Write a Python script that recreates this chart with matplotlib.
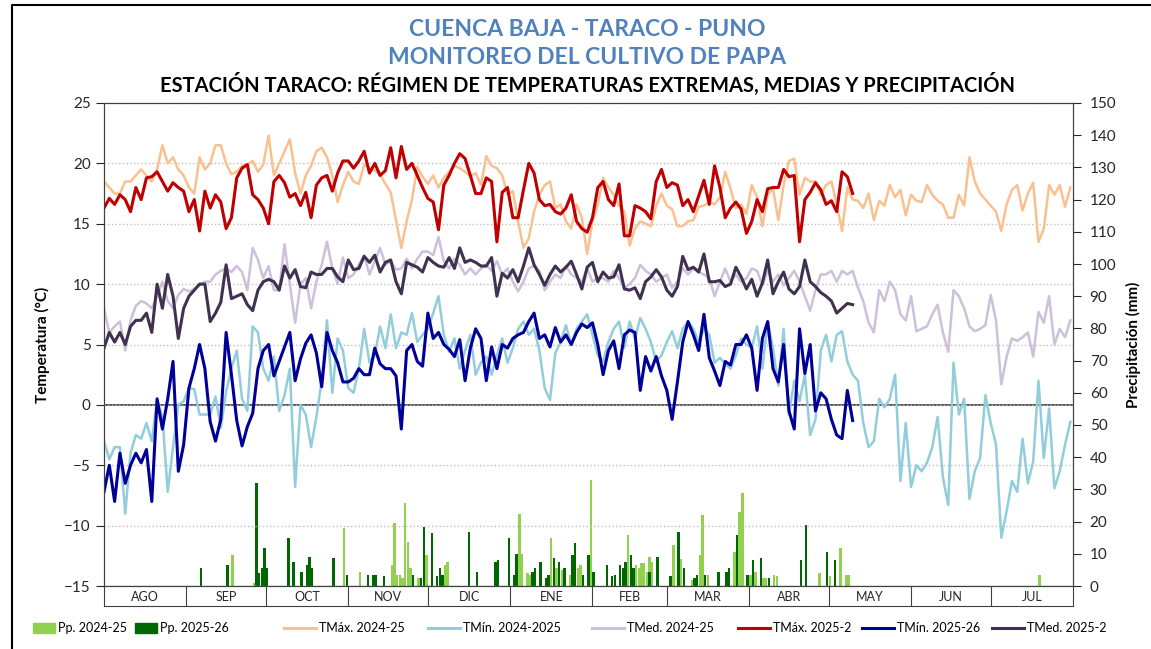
import numpy as np
import matplotlib.pyplot as plt
from matplotlib.lines import Line2D
from matplotlib.patches import Rectangle

plt.rcParams['font.family'] = ['Lato', 'DejaVu Sans']

months = ['AGO', 'SEP', 'OCT', 'NOV', 'DIC', 'ENE', 'FEB', 'MAR', 'ABR', 'MAY', 'JUN', 'JUL']
month_days = [31, 30, 31, 30, 31, 31, 28, 31, 30, 31, 30, 31]

# temperatures read every second day starting 1 Aug (deg C)
tmax_24 = [18.5, 18, 17.5, 17.5, 18.5, 18.5, 19, 19.5, 19, 18.5, 19.5, 21.5, 20, 20.5, 19.5, 19,
           18, 17.5, 20.5, 19.5, 20, 21.5, 21.5, 20, 19.1, 19.3, 19.8, 19.9, 20.2, 19.3, 19.9,
           22.3, 19, 20, 21, 22, 19.2, 17.5, 19, 19.8, 21, 21.3, 20.5, 19, 16.8, 18.2,
           19.3, 18.5, 18.3, 19.9, 19.6, 19.4, 19.1, 18.3, 17.6, 15.3, 13.0, 15.2, 17.0, 19.7, 18.9,
           18.3, 19.0, 18.0, 18.8, 19.3, 19.8, 19.6, 19.3, 18.9, 19.2, 18.2, 20.6, 19.8, 19.6, 19.0, 17.4,
           17.7, 15.2, 13, 13.8, 16, 17.4, 18.2, 18.5, 16.3, 16.6, 15.2, 14.6, 16.6, 15.5, 12.5,
           15.2, 16.6, 18.8, 18, 17.4, 16.5, 16, 13.2, 14.6, 15.2, 15, 14.8, 16.5, 17.5,
           16.5, 16.2, 14.8, 14.8, 15.2, 15.3, 16.4, 16.5, 16.8, 16.6, 17.2, 19.3, 17.9, 16.3, 16.6, 15.8,
           18.2, 17.2, 14.8, 17.4, 17.9, 15.3, 18.2, 20.2, 20.4, 17.4, 18.8, 18.5, 18.5, 17.4, 18.2,
           18.5, 16.6, 14.4, 18, 17, 16.9, 16.3, 17.5, 15.3, 16.9, 16.5, 18.2, 17.2, 17.8, 15.7,
           17.4, 16.9, 16.8, 18.2, 17.4, 16.9, 16.6, 15.5, 15.5, 17.4, 16.5, 20.5, 18.5, 17.5, 17,
           16.5, 16, 14.4, 16.6, 17.8, 18.2, 16.1, 17.5, 18.4, 13.5, 14.6, 18.2, 17.4, 18.2, 16.4, 18]

tmin_24 = [-3, -4.5, -3.5, -3.5, -9, -4, -2.5, -2.8, -1.5, -3, 0.4, -1, -7.2, -3.5, 0, 0.3,
           1.4, 1.3, -0.8, -0.8, -0.8, 0.7, -1.9, 1.1, 3, 4.5, 0.5, -0.5, 6.5, 6, 3,
           2, 4, -0.5, 0.8, 3, -6.8, 0, -0.8, -3.5, -1, 2, 7, 1, 5.5, 4.5,
           1.4, 1.0, 3.0, 6.3, 3.5, 4.1, 6.5, 4.7, 7.5, 4.7, 6, 5.8, 7.6, 5.2, 5.8,
           6.3, 7.6, 9.0, 5.8, 4.4, 5.5, 3.0, 4.5, 5.8, 2.5, 3.5, 4.0, 2.5, 4.1, 5.5, 3.5,
           4.7, 6.3, 6.9, 5.8, 6.3, 4.5, 1.4, 0.4, 4.3, 5.2, 6.6, 5.0, 6.3, 6.9, 7.5,
           5.8, 4.1, 3.6, 5.2, 6.3, 6.9, 4.7, 6.9, 5.5, 7.2, 6.3, 5.2, 3.6, 4.1,
           5.2, 6.1, 4.7, 6.3, 6.9, 6.3, 5.2, 6.3, 5.8, 3.5, 3.9, 3.4, 3.0, 4.1, 5.5, 5.0,
           4.7, 6.5, 3.0, 6.9, 4.7, 1.6, 6.3, -0.8, 2.0, 0.3, 2.5, -2.5, -1.2, 4.5, 5.8,
           3.6, 5.8, 6.1, 3.6, 2.5, 2.0, -1.5, -3.5, -3.0, 0.5, -0.2, 0.5, 2.5, -6.3, -1.5,
           -6.8, -5.0, -5.5, -4.8, -3.5, -1.0, -6.0, -8.3, 3.5, -0.8, 0.5, -7.8, -5.5, -4.4, 0.8,
           -1.5, -3.3, -11, -8.8, -6.3, -7.2, -2.8, -6.5, -4.7, 2.0, -4.4, -0.3, -6.9, -5.5, -3.3, -1.4]

tmed_24 = [8.0, 6.0, 6.5, 6.9, 4.5, 7.0, 8.2, 8.6, 8.4, 8.0, 9.0, 10.2, 8.6, 8.0, 9.1, 9.6,
           9.4, 9.6, 9.9, 10.2, 10.2, 10.8, 11.1, 11.3, 11.0, 11.5, 11.0, 9.5, 13.0, 12.0, 10.5,
           11.5, 9.5, 9.5, 13.3, 10.0, 6.8, 10, 10.5, 8.0, 10.2, 11.6, 13.5, 11.3, 10.0, 12.2,
           10.5, 10.8, 11.6, 12.4, 10.8, 11.9, 13.0, 11.6, 11.9, 11.2, 11.3, 12.1, 11.3, 12.1, 12.7,
           12.7, 12.4, 13.9, 11.9, 11.3, 12.1, 11.6, 10.8, 11.3, 10.8, 11.3, 11.6, 11.1, 11.9, 10.8, 11.3,
           10.2, 9.4, 10.2, 11.3, 11.5, 11.1, 9.5, 10.2, 10.8, 10.5, 11.5, 10.8, 10.5, 10.2, 11.3,
           10.2, 10.5, 10.5, 10.2, 11.1, 10.5, 9.7, 10.0, 10.5, 11.6, 11.1, 10.8, 10.2, 10.5,
           10.8, 9.7, 10.2, 11.3, 10.8, 11.3, 11.0, 10.8, 10.5, 9.0, 10.2, 11.3, 10.2, 10.8, 10.2, 10.5,
           11.3, 11.1, 9.9, 11.1, 10.2, 10.8, 9.9, 10.5, 11.1, 10.2, 9.0, 7.8, 9.5, 10.8, 10.8,
           11.1, 10.2, 11.1, 10.8, 11.1, 9.7, 8.6, 6.8, 6.0, 9.5, 8.6, 10.2, 9.5, 7.5, 7.0,
           9.0, 6.1, 6.3, 6.5, 7.5, 8.3, 6.0, 4.4, 9.5, 9.0, 8.0, 6.5, 6.1, 6.3, 6.6,
           9.1, 7.0, 1.7, 4.0, 5.5, 5.3, 5.6, 6.0, 4.0, 7.7, 6.8, 9.0, 5.0, 6.3, 5.6, 7.0]

tmax_25 = [16.3, 17.1, 16.6, 17.4, 17.0, 16.0, 18.0, 17.0, 18.8, 18.9, 19.3, 18.5, 17.7, 18.4, 18.0, 17.7,
           16.0, 17.0, 14.4, 17.7, 16.3, 17.4, 16.8, 14.6, 15.5, 18.8, 19.6, 19.9, 17.4, 17.0, 16.3,
           15.0, 18.5, 19.0, 18.4, 17.2, 17.5, 16.5, 17.6, 15.5, 18.2, 18.8, 19.0, 17.7, 19.2, 20.2,
           20.2, 19.6, 20.2, 21.0, 19.2, 20.0, 19.0, 19.4, 21.3, 18.8, 21.4, 19.5, 20.0, 19.0, 18.0,
           17.1, 16.8, 14.5, 18.2, 19.0, 20.0, 20.8, 20.4, 19.0, 17.5, 17.5, 18.8, 18.5, 13.5, 17.6, 18.0,
           15.5, 15.5, 17.8, 20.0, 19.2, 17.0, 16.5, 16.6, 16.0, 15.8, 16.3, 17.4, 15.2, 14.6, 14.3,
           15.5, 18.0, 18.5, 17.0, 16.5, 18.3, 14.0, 14.0, 16.5, 16.3, 16.0, 15.4, 18.5, 19.5,
           18.0, 18.4, 18.2, 16.5, 17.0, 16.0, 17.3, 18.6, 16.6, 19.8, 18.0, 15.5, 16.3, 16.8, 16.2, 14.2,
           15.2, 17.0, 16.0, 17.9, 18.0, 18.0, 19.5, 18.9, 19.0, 13.5, 17.0, 17.6, 18.4, 17.8, 16.6,
           16.9, 16.0, 19.3, 18.9, 17.5]

tmin_25 = [-7.2, -5.0, -8.0, -4.0, -6.5, -5.0, -4.0, -4.8, -3.7, -8.0, 0.5, -2.0, 0.5, 3.6, -5.5, -3.3,
           1.4, 3.0, 5.0, 3.0, -1.4, -3.0, -1.2, 6.0, 2.5, -1.3, -3.4, -1.8, -0.7, 3.0, 4.5,
           5.0, 2.4, 3.6, 4.8, 6.0, 2.0, 3.8, 5.1, 5.8, 4.3, 1.5, 6.0, 4.5, 3.5, 1.9,
           1.9, 2.2, 3.0, 2.5, 2.5, 4.7, 3.4, 3.0, 3.0, 2.4, -2.0, 4.5, 5.0, 3.6, 3.2,
           7.6, 5.5, 6.0, 5.0, 4.6, 4.0, 5.4, 2.0, 4.7, 6.3, 5.5, 2.0, 4.8, 3.0, 5.0, 4.7,
           5.5, 5.8, 6.0, 6.9, 7.6, 5.5, 5.8, 4.8, 6.4, 5.2, 5.8, 5.0, 6.0, 6.7, 6.4,
           6.8, 5.0, 2.5, 4.5, 5.3, 3.0, 5.8, 6.2, 6.0, 1.2, 4.0, 2.8, 4.0, 2.4,
           1.2, -1.2, 1.9, 5.2, 6.9, 5.8, 4.5, 7.5, 3.9, 2.8, 1.6, 3.6, 3.3, 5.0, 5.0, 5.8,
           4.7, 1.2, 5.5, 6.9, 3.0, 1.9, 5.0, -0.5, -2.0, 6.3, 2.6, 5.0, -0.5, 1.0, 0.5,
           -1.2, -2.5, -2.8, 1.2, -1.3]

tmed_25 = [4.7, 6.0, 5.2, 6.0, 5.0, 6.5, 7.0, 7.0, 7.6, 6.0, 10.0, 8.0, 10.8, 9.0, 5.5, 8.0,
           9.0, 9.5, 10.0, 10.0, 6.9, 7.6, 8.5, 11.6, 8.8, 9.0, 9.2, 8.3, 7.8, 9.5, 10.2,
           10.4, 10.2, 9.5, 11.5, 10.5, 11.2, 9.8, 9.7, 11.0, 10.8, 10.8, 11.3, 11.3, 10.6, 10.2,
           12.0, 11.2, 11.3, 12.3, 11.8, 12.4, 11.0, 11.8, 12.0, 10.2, 9.2, 11.8, 11.6, 11.4, 11.0,
           12.2, 11.8, 11.5, 11.4, 12.2, 11.3, 13.0, 11.8, 12.0, 11.8, 11.5, 11.5, 12.2, 9.0, 10.9, 10.5,
           11.2, 10.2, 11.5, 13.0, 11.6, 10.8, 9.9, 10.8, 11.5, 11.0, 11.4, 11.9, 10.8, 9.6, 11.4,
           11.8, 10.2, 11.0, 10.5, 10.6, 11.6, 9.6, 9.5, 9.7, 8.8, 10.2, 10.6, 11.2, 10.6,
           9.5, 9.0, 9.8, 12.3, 11.2, 11.4, 11.0, 12.5, 10.2, 10.2, 10.3, 9.8, 10.0, 11.4, 10.6, 9.6,
           10.4, 9.0, 10.1, 12.0, 9.2, 10.2, 11.0, 9.6, 9.2, 9.8, 12.0, 10.2, 9.8, 9.3, 9.0,
           8.6, 7.6, 8.0, 8.4, 8.3]

# daily rain (day counted from 1 Aug, mm)
pp24_day = [48, 56, 69, 90, 96, 108, 109, 110, 111, 112, 113, 114, 115, 118, 121, 128, 129, 140, 147,
            156, 157, 159, 160, 168, 170, 172, 175, 178, 179, 183, 195, 197, 200, 201, 202, 203, 204,
            205, 206, 214, 217, 221, 224, 225, 227, 237, 239, 240, 243, 245, 248, 249, 252, 253, 269,
            273, 275, 277, 279, 280, 352]
pp24_mm = [9.6, 1.0, 1.5, 18.0, 4.5, 6.5, 19.5, 3.5, 3.5, 2.5, 25.7, 13.8, 5.5, 2.5, 9.6, 6.5, 7.5, 4.0, 3.5,
           22.5, 10.0, 4.0, 3.5, 14.8, 5.5, 5.0, 3.5, 5.5, 6.5, 33.0, 5.5, 15.8, 6.5, 5.5, 7.0, 7.0, 4.5,
           9.0, 7.5, 12.7, 8.5, 2.0, 9.6, 22.0, 3.5, 10.7, 23.0, 29.0, 3.5, 4.5, 2.5, 2.5, 3.5, 3.0, 4.0,
           3.0, 7.5, 11.7, 3.5, 3.5, 3.4]

pp25_day = [36, 46, 57, 58, 59, 60, 61, 69, 71, 74, 76, 77, 78, 86, 91, 99, 101, 102, 105, 116, 119,
            120, 123, 125, 126, 127, 137, 140, 147, 148, 152, 154, 155, 161, 162, 164, 166, 167, 169,
            171, 173, 176, 177, 180, 182, 184, 189, 191, 192, 194, 195, 196, 198, 199, 205, 208, 213,
            216, 218, 222, 223, 226, 231, 234, 235, 238, 242, 244, 247, 250, 262, 264, 272, 275]
pp25_mm = [5.5, 6.5, 32.0, 4.0, 5.5, 11.7, 5.5, 14.8, 7.5, 4.5, 6.5, 9.0, 5.5, 8.6, 3.4, 3.5, 3.5, 3.5, 3.0,
           3.5, 2.5, 18.4, 16.4, 3.0, 5.5, 3.5, 16.9, 4.5, 7.5, 8.0, 14.8, 3.5, 10.0, 4.5, 5.5, 7.5, 2.5,
           3.5, 8.6, 7.5, 5.5, 9.6, 13.2, 3.5, 9.6, 4.5, 6.5, 3.0, 3.5, 6.5, 5.5, 7.5, 9.6, 5.5, 4.5, 9.0,
           3.0, 16.9, 5.5, 2.5, 3.5, 3.5, 4.5, 4.5, 5.5, 15.8, 3.5, 8.0, 8.6, 2.5, 8.0, 19.0, 10.7, 8.0]

legend_labels = ['Pp. 2024-25', 'Pp. 2025-26', 'TMáx. 2024-25', 'TMín. 2024-2025', 'TMed. 2024-25',
                 'TMáx. 2025-2', 'TMín. 2025-26', 'TMed. 2025-2']

W, H = 1151, 649
fig = plt.figure(figsize=(W / 100, H / 100), dpi=100)

ax = fig.add_axes([104 / W, 63 / H, 969 / W, 483 / H])
ax2 = ax.twinx()
ax.set_zorder(ax2.get_zorder() + 1)
ax.patch.set_visible(False)

ax2.bar(pp24_day, pp24_mm, width=0.9, color='#92D050', align='edge')
ax2.bar(pp25_day, pp25_mm, width=0.9, color='#006600', align='edge')
ax2.set_ylim(0, 150)
ax2.set_yticks(range(0, 151, 10))
ax2.tick_params(axis='y', direction='out', length=6, labelsize=11, pad=6, colors='#262626')

d24 = np.arange(len(tmax_24)) * 2
d25 = np.arange(len(tmax_25)) * 2
ax.plot(d24, tmax_24, color='#FAC08F', lw=1.8)
ax.plot(d24, tmin_24, color='#92CDDC', lw=1.8)
ax.plot(d24, tmed_24, color='#CCC0DA', lw=1.8)
ax.plot(d25, tmax_25, color='#C00000', lw=2.2)
ax.plot(d25, tmin_25, color='#000099', lw=2.2)
ax.plot(d25, tmed_25, color='#403151', lw=2.2)

ax.axhline(0, color='#595959', lw=1.4, zorder=1)
ax.set_xlim(0, 365)
ax.set_ylim(-15, 25)
ax.set_yticks(range(-15, 26, 5))
ax.yaxis.grid(True, linestyle=':', color='#BFBFBF', lw=1)
ax.set_xticks([])
ax.tick_params(axis='y', direction='out', length=6, labelsize=11, colors='#262626')
for a in (ax, ax2):
    for s in a.spines.values():
        s.set_color('#404040')
ax2.set_xlim(0, 365)

# month strip under the plot
axm = fig.add_axes([104 / W, 43 / H, 969 / W, 20 / H])
axm.set_xlim(0, 365)
axm.set_ylim(0, 1)
axm.set_xticks([])
axm.set_yticks([])
for s in axm.spines.values():
    s.set_color('#404040')
edges = np.concatenate([[0], np.cumsum(month_days)])
for i, m in enumerate(months):
    if i > 0:
        axm.axvline(edges[i], color='#404040', lw=0.8)
    axm.text((edges[i] + edges[i + 1]) / 2, 0.45, m, ha='center', va='center', fontsize=9, color='#262626')

fig.text(42 / W, 1 - 345 / H, 'Temperatura (°C)', rotation=90, ha='center', va='center',
         fontsize=11, fontweight='bold')
fig.text(1133 / W, 1 - 345 / H, 'Precipitación (mm)', rotation=90, ha='center', va='center',
         fontsize=11, fontweight='bold')

fig.text(587 / W, 1 - 30 / H, 'CUENCA BAJA - TARACO - PUNO', ha='center', va='center',
         fontsize=16.5, fontweight='bold', color='#4F81BD')
fig.text(587 / W, 1 - 57 / H, 'MONITOREO DEL CULTIVO DE PAPA', ha='center', va='center',
         fontsize=16.5, fontweight='bold', color='#4F81BD')
fig.text(587 / W, 1 - 84 / H,
         'ESTACIÓN TARACO: RÉGIMEN DE TEMPERATURAS EXTREMAS, MEDIAS Y PRECIPITACIÓN',
         ha='center', va='center', fontsize=14.5, fontweight='bold', color='black')

# legend row, drawn by hand to keep the original spacing
leg_kind = ['patch', 'patch', 'line', 'line', 'line', 'line', 'line', 'line']
leg_col = ['#92D050', '#006600', '#FAC08F', '#92CDDC', '#CCC0DA', '#C00000', '#000099', '#403151']
leg_x = [33, 135, 284, 428, 592, 738, 862, 992]
ly = 1 - 628 / H
for kind, col, lab, x0 in zip(leg_kind, leg_col, legend_labels, leg_x):
    if kind == 'patch':
        fig.patches.append(Rectangle((x0 / W, ly - 5 / H), 22 / W, 10 / H, transform=fig.transFigure,
                                     color=col))
        tx = x0 + 25
    else:
        fig.lines.append(Line2D([x0 / W, (x0 + 32) / W], [ly, ly], transform=fig.transFigure,
                                color=col, lw=2.2))
        tx = x0 + 35
    fig.text(tx / W, ly, lab, ha='left', va='center', fontsize=9)

# outer frame
fig.lines.append(Line2D([12 / W, 12 / W, 1.0], [0, 1 - 5 / H, 1 - 5 / H], transform=fig.transFigure,
                        color='black', lw=1.5))

fig.savefig('out.png', dpi=100)
